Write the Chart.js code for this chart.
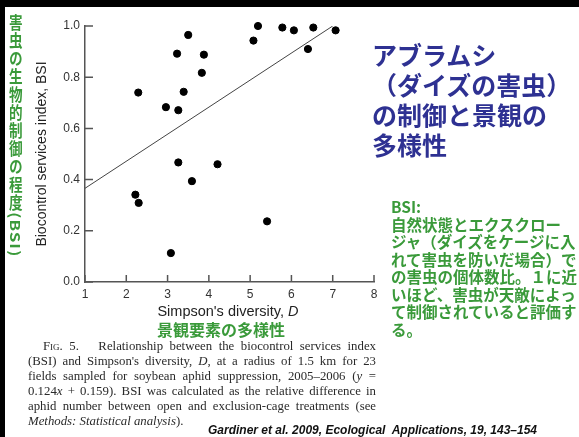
<!DOCTYPE html>
<html>
<head>
<meta charset="utf-8">
<script src="https://cdn.jsdelivr.net/npm/chart.js@4"></script>
<style>
  body { margin: 0; background: #fff; }
  #slide { position: relative; width: 579px; height: 437px; overflow: hidden; background: #fff; }
  #frame { position: absolute; left: 0; top: 0; width: 579px; height: 437px; box-sizing: border-box; border-left: 5px solid #000; border-top: 7px solid #000; }
  #chart_bsi { position: absolute; left: 0; top: 0; }
  .txt { position: absolute; white-space: nowrap; }
  .jp { font-family: "Noto Sans CJK JP", sans-serif; font-weight: bold; }
  #title { left: 372px; top: 39px; font-size: 25px; line-height: 30px; color: #2e3192; }
  #note { left: 391px; top: 198px; font-size: 15.5px; line-height: 17.5px; color: #3a9a3a; }
  #yjp { left: 8.5px; top: 14px; writing-mode: vertical-rl; font-size: 17px; line-height: 17px; letter-spacing: 1px; transform: scaleX(0.8); transform-origin: left top; color: #3a9a3a; }
  #xtitle { left: 128px; top: 303px; width: 200px; text-align: center; font-family: "Liberation Sans", Arial, sans-serif; font-size: 14.5px; line-height: 17px; color: #222; }
  #xjp { left: 121px; top: 320px; width: 200px; text-align: center; font-size: 16px; line-height: 18px; color: #3a9a3a; }
  #caption { position: absolute; left: 28px; top: 339px; width: 348px; font-family: "Liberation Serif", "Times New Roman", serif; font-size: 12.8px; line-height: 14.9px; color: #2a2a2a; }
  #caption div { text-align: justify; text-align-last: justify; white-space: nowrap; }
  #caption div.last { text-align-last: left; }
  #cite { left: 208px; top: 422px; font-family: "Liberation Sans", Arial, sans-serif; font-weight: bold; font-style: italic; font-size: 12px; line-height: 16px; color: #111; }
</style>
</head>
<body>
<div id="slide">
  <canvas id="chart_bsi" width="390" height="300"></canvas>
  <div id="frame"></div>
  <div class="txt jp" id="yjp">害虫の生物的制御の程度(BSI)</div>
  <div class="txt" id="xtitle">Simpson's diversity, <i>D</i></div>
  <div class="txt jp" id="xjp">景観要素の多様性</div>
  <div class="txt jp" id="title">アブラムシ<br>（ダイズの害虫）<br>の制御と景観の<br>多様性</div>
  <div class="txt jp" id="note">BSI:<br>自然状態とエクスクロー<br>ジャ（ダイズをケージに入<br>れて害虫を防いだ場合）で<br>の害虫の個体数比。１に近<br>いほど、害虫が天敵によっ<br>て制御されていると評価す<br>る。</div>
  <div id="caption">
    <div style="padding-left:15px"><span style="font-variant:small-caps">Fig.</span> 5.&nbsp;&nbsp; Relationship between the biocontrol services index</div>
    <div>(BSI) and Simpson's diversity, <i>D</i>, at a radius of 1.5 km for 23</div>
    <div>fields sampled for soybean aphid suppression, 2005–2006 (<i>y</i> =</div>
    <div>0.124<i>x</i> + 0.159). BSI was calculated as the relative difference in</div>
    <div>aphid number between open and exclusion-cage treatments (see</div>
    <div class="last"><i>Methods: Statistical analysis</i>).</div>
  </div>
  <div class="txt" id="cite">Gardiner et al. 2009, Ecological&nbsp; Applications, 19, 143–154</div>
</div>
<script>
// values
const diversity = [5.19, 5.78, 6.53, 6.06, 7.07, 3.50, 5.08, 6.40, 3.23, 3.88, 3.83,
                   2.29, 3.39, 2.96, 3.26, 3.26, 4.21, 3.59, 2.22, 2.30, 5.41, 3.08];
const bsi = [1.00, 0.994, 0.994, 0.983, 0.983, 0.965, 0.943, 0.91, 0.892, 0.888, 0.817,
             0.740, 0.743, 0.683, 0.671, 0.467, 0.460, 0.394, 0.341, 0.309, 0.237, 0.113];
// drawn regression line end points
const fitX = [1, 7];
const fitY = [0.366, 1.0];

const axisColor = '#555';

// ticks in the figure point into the plot
const inwardTicks = {
    id: 'inwardTicks',
    afterDraw(chart) {
        const {ctx, chartArea, scales: {x, y}} = chart;
        ctx.save();
        ctx.strokeStyle = axisColor;
        ctx.lineWidth = 1.5;
        ctx.beginPath();
        x.ticks.forEach(t => {
            const px = x.getPixelForValue(t.value);
            ctx.moveTo(px, chartArea.bottom);
            ctx.lineTo(px, chartArea.bottom - 7);
        });
        y.ticks.forEach(t => {
            const py = y.getPixelForValue(t.value);
            ctx.moveTo(chartArea.left, py);
            ctx.lineTo(chartArea.left + 8, py);
        });
        ctx.stroke();
        ctx.restore();
    }
};

Chart.defaults.font.family = '"Liberation Sans", Arial, sans-serif';

new Chart(document.getElementById('chart_bsi'), {
    type: 'scatter',
    data: {
        datasets: [
            {
                data: diversity.map((d, i) => ({x: d, y: bsi[i]})),
                backgroundColor: '#000',
                borderColor: '#000',
                pointRadius: 3.6,
                clip: false
            },
            {
                type: 'line',
                data: fitX.map((d, i) => ({x: d, y: fitY[i]})),
                borderColor: '#444',
                borderWidth: 1,
                pointRadius: 0,
                fill: false
            }
        ]
    },
    options: {
        responsive: false,
        animation: false,
        layout: { padding: { left: 0, right: 16, top: 26, bottom: 0 } },
        scales: {
            x: {
                type: 'linear',
                min: 1,
                max: 8,
                grid: { display: false, drawTicks: false },
                border: { display: true, color: axisColor, width: 1.5 },
                ticks: { stepSize: 1, padding: 5, color: '#333', font: { size: 12 } },
                afterFit: scale => { scale.height = 18; }
            },
            y: {
                min: 0,
                max: 1,
                grid: { display: false, drawTicks: false },
                border: { display: true, color: axisColor, width: 1.5 },
                ticks: {
                    stepSize: 0.2,
                    padding: 5,
                    color: '#333',
                    font: { size: 12 },
                    callback: v => v.toFixed(1)
                },
                title: {
                    display: true,
                    text: 'Biocontrol services index, BSI',
                    color: '#222',
                    font: { size: 14 },
                    padding: { top: 34, bottom: 0 }
                },
                afterFit: scale => { scale.width = 85; }
            }
        },
        plugins: {
            legend: { display: false },
            tooltip: { enabled: false }
        }
    },
    plugins: [inwardTicks]
});
</script>
</body>
</html>
